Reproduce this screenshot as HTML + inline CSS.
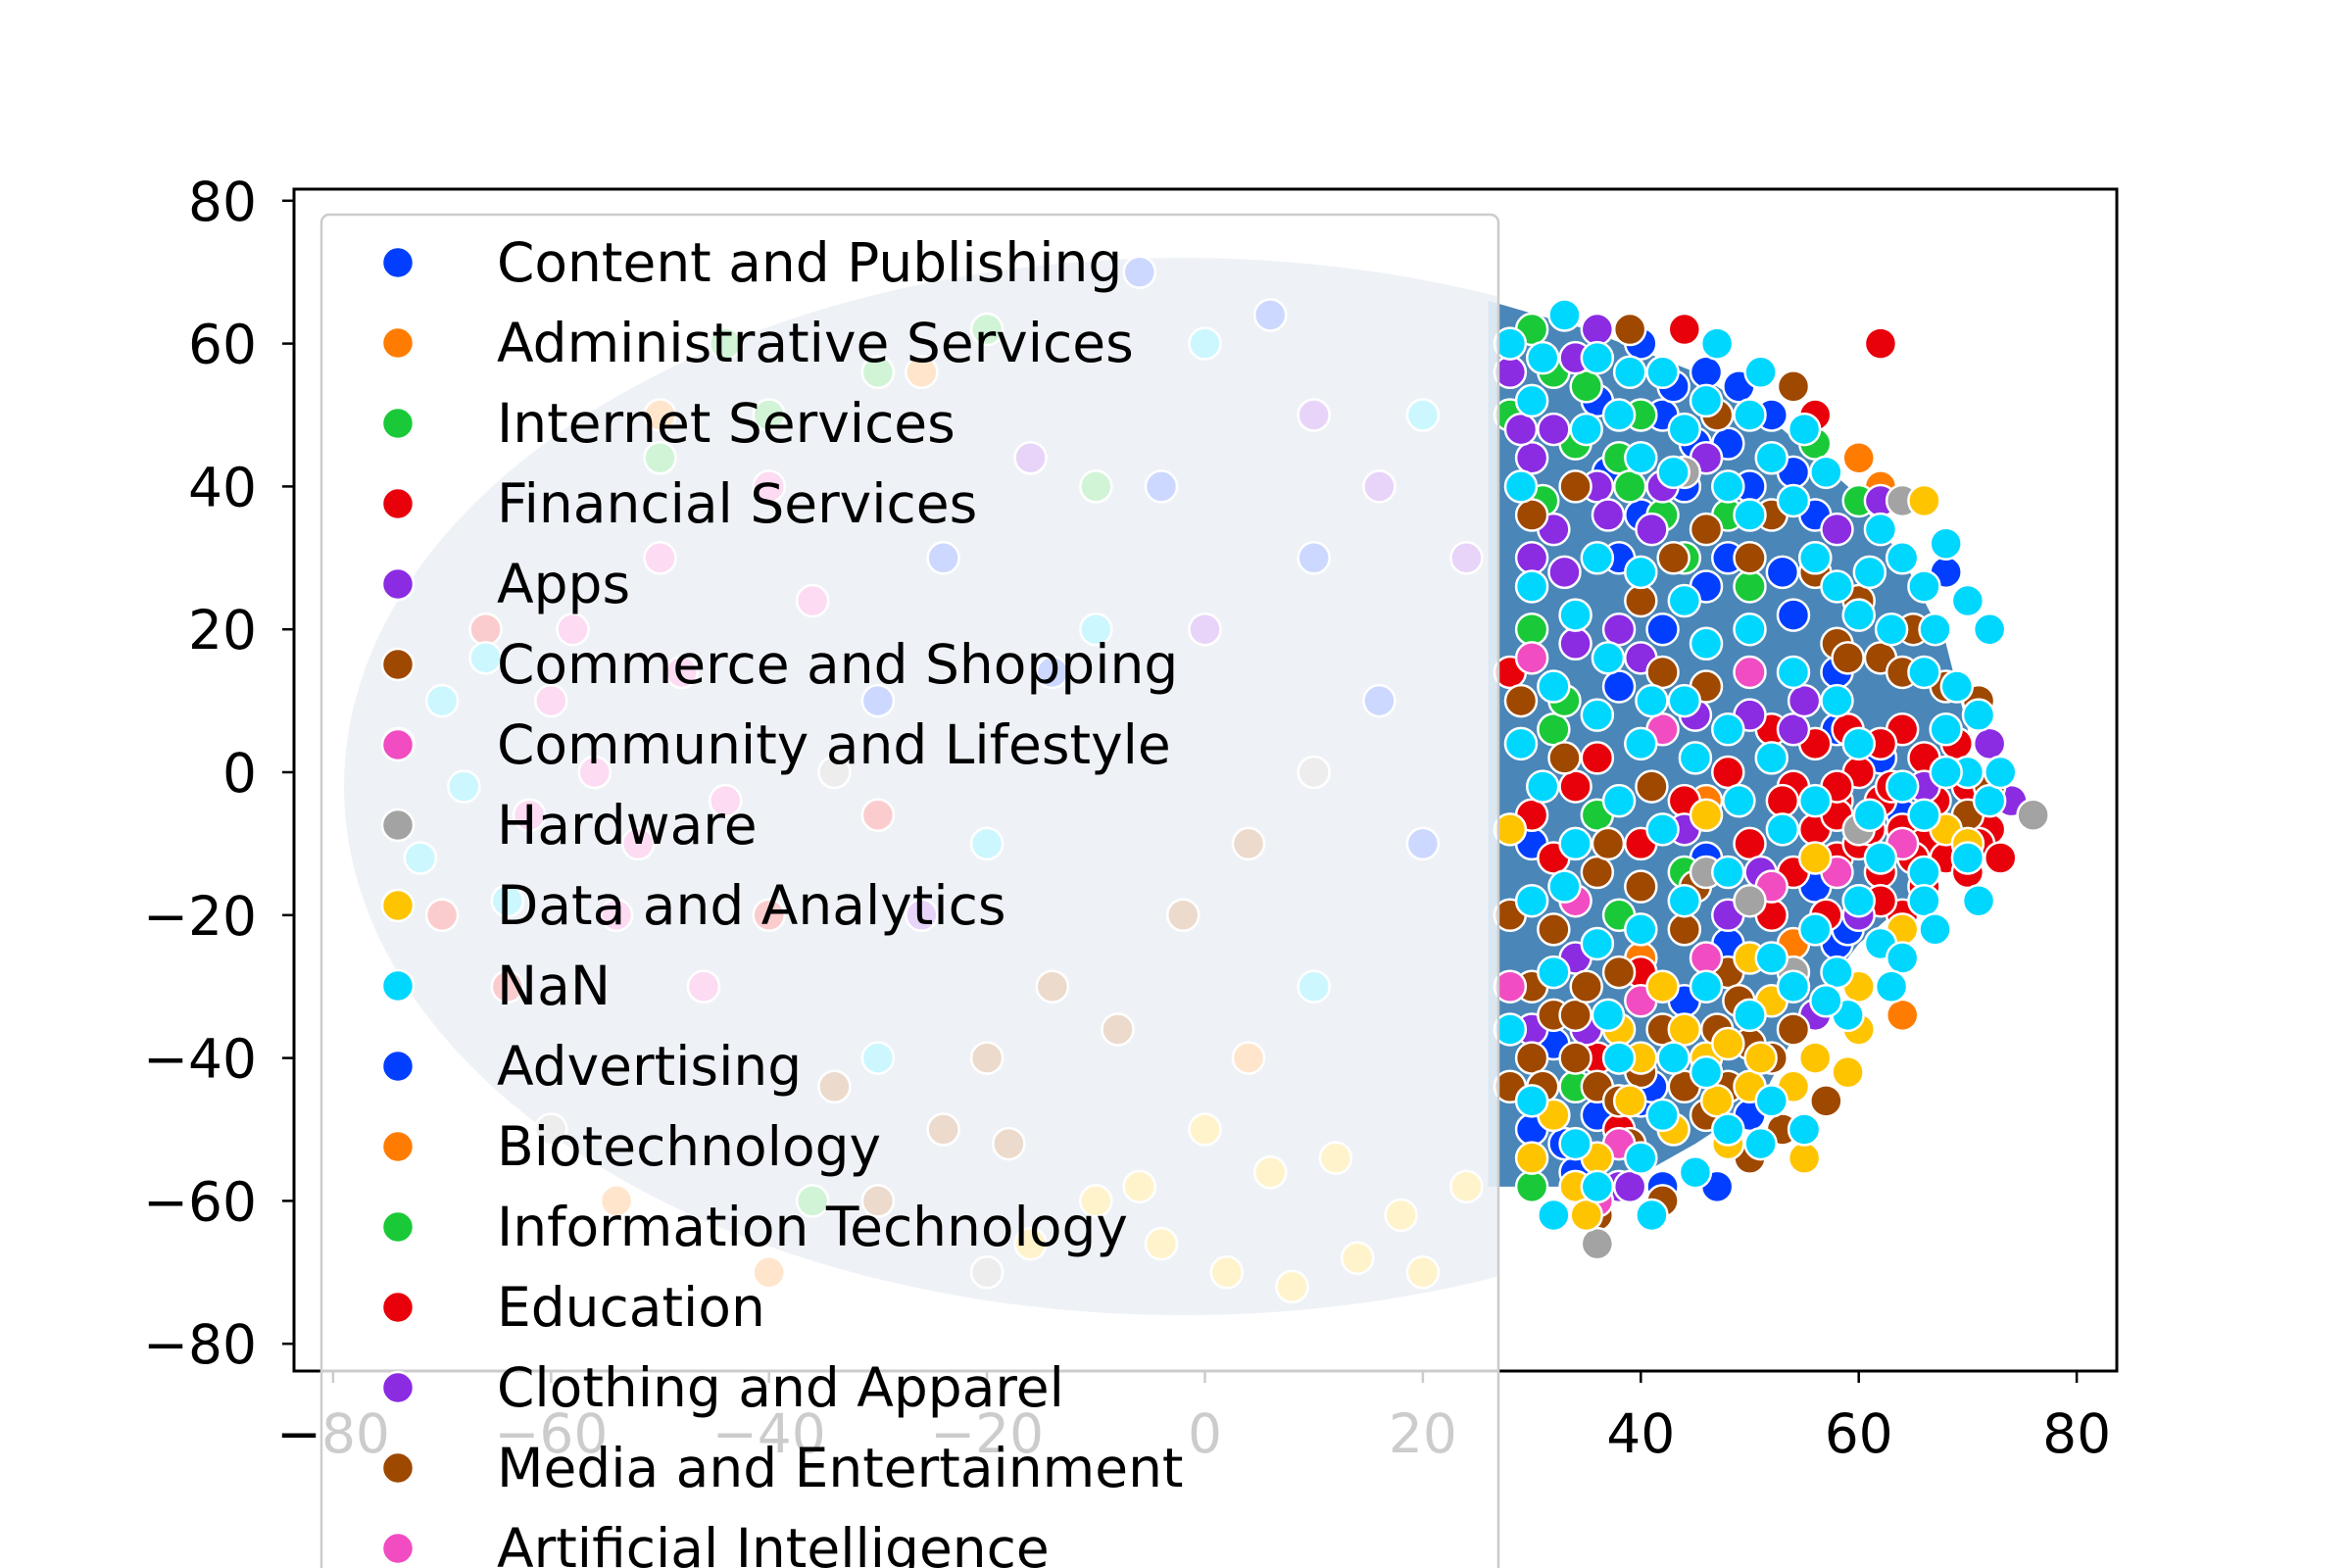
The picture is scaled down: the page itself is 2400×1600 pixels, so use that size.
<!DOCTYPE html>
<html><head><meta charset="utf-8"><style>
html,body{margin:0;padding:0;background:#fff;}
svg{display:block;font-family:"DejaVu Sans","Liberation Sans",sans-serif;}
</style></head><body>
<svg id="chart" width="2400" height="1600" viewBox="0 0 2400 1600">
<defs><clipPath id="plotclip"><rect x="300" y="193" width="1860" height="1206"/></clipPath>
<clipPath id="leftclip"><rect x="0" y="0" width="1529" height="1600"/></clipPath></defs>
<g id="points" clip-path="url(#plotclip)"></g>
<rect x="300" y="193" width="1860" height="1206" fill="none" stroke="#000" stroke-width="3"/>
<g id="xticks"></g>
<g id="yticks"></g>
<g id="legend"></g>
</svg>
<script>
const colors=["#023eff","#ff7c00","#1ac938","#e8000b","#8b2be2","#9f4800","#f14cc1","#a3a3a3","#ffc400","#00d7ff"];
const legendLabels=["Content and Publishing","Administrative Services","Internet Services","Financial Services","Apps","Commerce and Shopping","Community and Lifestyle","Hardware","Data and Analytics","NaN","Advertising","Biotechnology","Information Technology","Education","Clothing and Apparel","Media and Entertainment","Artificial Intelligence"];
const xTicks=[-80,-60,-40,-20,0,20,40,60,80];
const yTicks=[-80,-60,-40,-20,0,20,40,60,80];
const hullPts="26,66 35,62 45,56 53,48 59,40 64,30 68,18 70,6 70,-10 66,-16 60,-24 55,-34 51,-46 45,-52 38,-58 26,-58";
const bluePts="36,52 40,60 42,50 46,56 48,46 44,40 40,36 38,30 48,30 50,40 52,50 54,42 56,36 46,26 42,20 54,22 58,6 62,2 64,-6 56,-16 58,-24 48,-24 44,-32 40,-46 36,-48 34,-56 42,-58 30,-50 32,-38 50,-48 46,-12 38,12 68,28 30,-10 58,14 37,42 43,54 49,54 45,46 53,28 59,-22 33,-52 41,-44 47,-58 -24,30 -14,14 -4,40 10,30 16,10 -30,10 6,64 -6,70 20,-10";
const orangePts="62,40 60,44 54,-24 46,-4 40,-26 64,-34 -54,-60 -40,-70 -26,56 -50,50 4,-40";
const greenPts="28,50 30,62 32,56 34,46 38,44 40,50 42,36 44,30 30,20 32,6 36,-6 38,-20 34,-44 30,-58 48,36 50,26 56,46 60,38 44,-14 31,38 35,54 39,40 33,10 -40,50 -30,56 -20,62 -50,44 -36,-60 -10,40 -44,60";
const redPts="60,0 62,-4 64,-8 66,-10 68,-12 70,-14 72,-8 70,-2 66,2 64,6 62,-14 60,-18 58,-12 56,-8 54,-2 58,-4 62,4 66,-16 64,-20 58,-6 60,-10 56,4 52,6 54,-14 50,-10 52,-20 48,0 44,-4 40,-10 36,2 32,-12 30,-6 34,-2 28,14 40,-28 62,60 56,50 44,62 38,-50 36,-40 58,-2 62,-18 63,-2 67,-4 69,-8 65,-12 61,-8 59,6 57,-20 53,-4 69,4 71,-10 73,-12 -64,-30 -66,20 -30,-6 -40,-20 -70,-20";
const purplePts="28,56 30,44 32,48 34,58 36,62 32,34 30,30 34,18 38,20 40,16 36,40 42,40 46,44 50,8 54,6 58,34 62,38 66,-2 72,4 74,-4 34,-26 30,-36 38,-58 44,-8 48,-20 56,-34 60,-20 29,48 33,28 37,36 41,34 45,8 35,-36 51,-14 55,10 39,-58 0,20 10,50 16,40 -16,44 24,30 -26,-20";
const brownPts="28,-20 30,-30 32,-34 34,-40 36,-44 38,-46 40,-42 42,-36 44,-44 46,-48 48,-44 50,-38 52,-40 54,-36 44,-22 40,-16 36,-14 32,-22 30,-40 28,-44 38,-28 46,12 42,14 50,30 52,36 56,28 58,18 62,16 64,14 68,12 72,-2 70,-6 60,24 54,54 46,34 40,24 34,40 30,36 48,-28 50,-54 42,-60 36,-62 34,-34 29,10 33,2 37,-10 41,-2 45,-16 49,-32 53,-50 47,-36 39,-52 35,-30 31,-44 57,-46 59,16 65,20 71,10 43,30 47,50 39,62 -20,-40 -14,-30 -8,-36 -24,-50 -30,-60 -2,-20 4,-10 -34,-44 -18,-52";
const pinkPts="30,16 34,-18 40,-32 38,-52 36,-60 46,-26 52,-16 58,-14 64,-10 56,30 50,14 28,-30 42,6 -60,10 -56,0 -52,-10 -58,20 -50,30 -54,-20 -48,14 -44,-4 -62,-6 -40,40 -46,-30 -36,24";
const grayPts="36,-66 46,-14 50,-18 64,38 76,-6 44,42 54,-28 60,-8 -34,0 -20,-70 -60,-50 10,0";
const yellowPts="30,-54 32,-48 36,-54 40,-40 44,-36 46,-40 48,-38 50,-44 52,-32 54,-44 56,-40 38,-36 34,-58 42,-30 50,-26 56,-12 60,-30 64,-22 66,38 68,-8 70,-10 46,-6 28,-8 60,-36 48,-52 43,-50 51,-40 55,-54 39,-46 47,-46 35,-62 59,-42 -10,-60 -4,-66 2,-70 8,-72 14,-68 18,-62 6,-56 0,-50 -6,-58 12,-54 20,-70 24,-58 -16,-66";
const cyanPts="28,60 30,52 33,64 36,58 38,50 40,44 42,56 44,48 46,52 48,40 50,50 52,44 50,36 54,38 56,30 58,26 60,22 62,34 64,30 66,26 68,32 70,24 72,20 66,14 68,6 70,0 64,-2 66,-6 60,4 58,10 54,14 50,20 46,18 44,24 40,28 36,30 34,22 30,26 32,12 36,8 40,4 44,10 48,6 52,2 56,-4 62,-12 66,-14 70,-12 60,-18 56,-22 52,-26 48,-14 44,-18 40,-22 36,-24 32,-28 30,-18 34,-10 38,-4 42,-8 46,-30 50,-34 54,-30 58,-28 46,-42 42,-48 38,-40 34,-52 32,-62 36,-58 40,-54 30,-46 28,-36 48,-50 52,-46 62,-24 64,-26 66,-18 68,0 72,-4 29,40 31,58 35,48 39,56 43,42 47,60 51,56 55,48 57,42 61,28 63,20 67,20 69,12 71,8 73,0 71,-18 67,-22 63,-30 59,-34 55,-50 51,-52 45,-56 41,-62 37,-34 33,-16 31,-2 29,4 37,16 41,10 45,2 49,-4 53,-8 57,-32 61,-6 43,-40 -74,4 -70,10 -68,-2 -72,-12 -66,16 -64,-18 -20,-10 -10,20 0,60 10,-30 20,50 -30,-40";
const series=[["content-and-publishing",bluePts,0],["administrative-services",orangePts,1],["internet-services",greenPts,2],["financial-services",redPts,3],["apps",purplePts,4],["commerce-and-shopping",brownPts,5],["community-and-lifestyle",pinkPts,6],["hardware",grayPts,7],["data-and-analytics",yellowPts,8],["nan",cyanPts,9]];

const NS="http://www.w3.org/2000/svg";
const X0=300,X1=2160,Y0=193,Y1=1399;
function sx(v){return 1229.5+v*11.12;}
function sy(v){return 788-v*7.29;}
function mk(t,a,p){const e=document.createElementNS(NS,t);for(const k in a)e.setAttribute(k,a[k]);p.appendChild(e);return e;}
const pg=document.getElementById('points');
const under=mk('ellipse',{cx:sx(-2),cy:sy(-2),rx:77*11.12,ry:74*7.29,fill:'#a8bcd4','clip-path':'url(#leftclip)'},pg);


const hull=mk('polygon',{points:hullPts.split(' ').map(p=>{const [x,y]=p.split(',').map(Number);return sx(x)+','+sy(y);}).join(' '),fill:'#4a86b8'},pg);


series.forEach(s=>{
  const g=mk('g',{},pg);
  
  
  s[1].trim().split(/\s+/).forEach(p=>{
    const [x,y]=p.split(',').map(Number);
    const c=mk('circle',{cx:sx(x),cy:sy(y),r:16,fill:colors[s[2]],stroke:'#fff','stroke-width':2.5},g);
    
    
  });
});
const xg=document.getElementById('xticks');
xTicks.forEach(v=>{
  const x=sx(v);
  const l=mk('line',{x1:x,x2:x,y1:Y1,y2:Y1+12,stroke:'#000','stroke-width':2.5},xg);
  
  
  const t=mk('text',{x:x,y:1482,'text-anchor':'middle','font-size':55,fill:'#000'},xg);
  t.textContent=(v<0?'\u2212':'')+Math.abs(v);
  
  
});
const yg=document.getElementById('yticks');
yTicks.forEach(v=>{
  const y=sy(v);
  const l=mk('line',{x1:X0-12,x2:X0,y1:y,y2:y,stroke:'#000','stroke-width':2.5},yg);
  
  
  const t=mk('text',{x:262,y:y+20,'text-anchor':'end','font-size':55,fill:'#000'},yg);
  t.textContent=(v<0?'\u2212':'')+Math.abs(v);
  
  
});
const lg=document.getElementById('legend');
const box=mk('rect',{x:328,y:219,width:1201,height:1450,rx:8,fill:'#fff','fill-opacity':0.8,stroke:'#cccccc','stroke-width':2.5},lg);


legendLabels.forEach((lab,i)=>{
  const y=268+i*82;
  const e=mk('g',{},lg);
  
  
  mk('circle',{cx:406,cy:y,r:16,fill:colors[i%10],stroke:'#fff','stroke-width':2.5},e);
  const t=mk('text',{x:507,y:y+19,'font-size':55,fill:'#000'},e);
  t.textContent=lab;
});
</script>
</body></html>
